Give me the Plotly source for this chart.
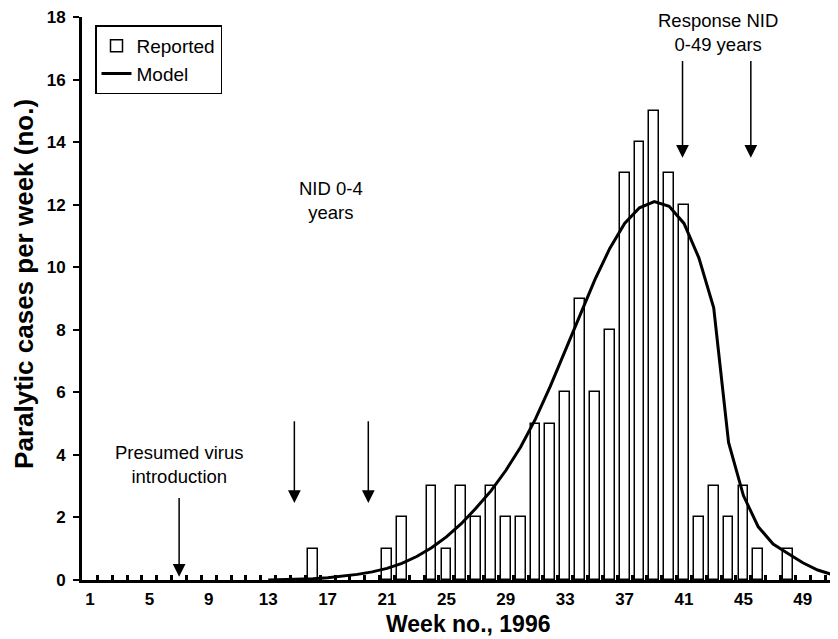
import plotly.graph_objects as go

# Reported paralytic cases per week (bars)
report_weeks = [16, 21, 22, 24, 25, 26, 27, 28, 29, 30, 31, 32, 33, 34, 35, 36,
                37, 38, 39, 40, 41, 42, 43, 44, 45, 46, 48]
report_cases = [1, 1, 2, 3, 1, 3, 2, 3, 2, 2, 5, 5, 6, 9, 6, 8,
                13, 14, 15, 13, 12, 2, 3, 2, 3, 1, 1]

# Model curve
model_weeks = list(range(13, 53))
model_cases = [0.00, 0.01, 0.02, 0.04, 0.07, 0.12, 0.18, 0.26, 0.37, 0.53,
               0.75, 1.03, 1.38, 1.80, 2.30, 2.85, 3.50, 4.25, 5.15, 6.20,
               7.35, 8.50, 9.60, 10.60, 11.40, 11.90, 12.10, 11.95, 11.40, 10.30,
               8.70, 4.40, 2.70, 1.70, 1.15, 0.85, 0.55, 0.32, 0.17, 0.08]

x_tick_vals = [1, 5, 9, 13, 17, 21, 25, 29, 33, 37, 41, 45, 49]
x_minor_vals = [w + 0.5 for w in range(1, 51)]
y_tick_vals = [0, 2, 4, 6, 8, 10, 12, 14, 16, 18]

FONT = "Arial, Liberation Sans, Helvetica, sans-serif"

fig = go.Figure()
fig.add_trace(go.Bar(
    x=report_weeks, y=report_cases, name="Reported", width=0.66,
    marker=dict(color="white", line=dict(color="black", width=1.5)),
))
fig.add_trace(go.Scatter(
    x=model_weeks, y=model_cases, name="Model", mode="lines",
    line=dict(color="black", width=3), cliponaxis=True,
))

# arrows (tip x, tip y, tail y)
arrows = [(7.0, 0.1, 2.67), (14.76, 2.46, 5.12), (19.74, 2.46, 5.12),
          (40.9, 13.5, 16.64), (45.5, 13.5, 16.64)]
for ax_, tip, tail in arrows:
    fig.add_annotation(x=ax_, y=tip, ax=ax_, ay=tail, axref="x", ayref="y",
                       xref="x", yref="y", text="", showarrow=True,
                       arrowhead=2, arrowsize=1.7, arrowwidth=1.5, arrowcolor="black")

labels = [(7.0, 3.68, "Presumed virus<br>introduction"),
          (17.23, 12.14, "NID 0-4<br>years"),
          (43.27, 17.5, "Response NID<br>0-49 years")]
for lx, ly, txt in labels:
    fig.add_annotation(x=lx, y=ly, xref="x", yref="y", text=txt, showarrow=False,
                       font=dict(family=FONT, size=18.5, color="black"),
                       xanchor="center", yanchor="middle")

# axis titles
fig.add_annotation(x=0.5106, y=-0.078, xref="paper", yref="paper",
                   text="Week no., 1996", showarrow=False,
                   xanchor="center", yanchor="middle",
                   font=dict(family=FONT, size=23, weight="bold", color="black"))
fig.add_annotation(x=-0.0767, y=0.526, xref="paper", yref="paper",
                   text="Paralytic cases per week (no.)", showarrow=False,
                   textangle=-90, xanchor="center", yanchor="middle",
                   font=dict(family=FONT, size=26, weight="bold", color="black"))

fig.update_layout(
    width=830, height=631,
    margin=dict(l=74, r=0, t=9, b=59, autoexpand=False),
    paper_bgcolor="white", plot_bgcolor="white",
    font=dict(family=FONT, color="black"),
    bargap=0,
    legend=dict(x=0.0172, y=0.985, xanchor="left", yanchor="top",
                bgcolor="white", bordercolor="black", borderwidth=1.5,
                font=dict(family=FONT, size=19, color="black"),
                traceorder="normal", tracegroupgap=2),
    xaxis=dict(
        range=[0.46, 51.37], tickmode="array", tickvals=x_tick_vals,
        ticks="outside", ticklen=2, tickcolor="rgba(0,0,0,0)",
        tickfont=dict(family=FONT, size=17, weight="bold"),
        showline=True, linecolor="black", linewidth=3, showgrid=False, zeroline=False,
        automargin=False, ticklabeloverflow="allow",
        minor=dict(tickmode="array", tickvals=x_minor_vals, ticks="inside",
                   ticklen=5, tickwidth=2.5, tickcolor="black", showgrid=False),
    ),
    yaxis=dict(
        range=[0, 18], tickmode="array", tickvals=y_tick_vals,
        ticks="outside", ticklen=6, tickwidth=2, tickcolor="black",
        tickfont=dict(family=FONT, size=17, weight="bold"),
        ticklabelstandoff=4,
        showline=True, linecolor="black", linewidth=3, showgrid=False, zeroline=False,
        automargin=False, ticklabeloverflow="allow",
    ),
)

fig.write_html("out.html")
